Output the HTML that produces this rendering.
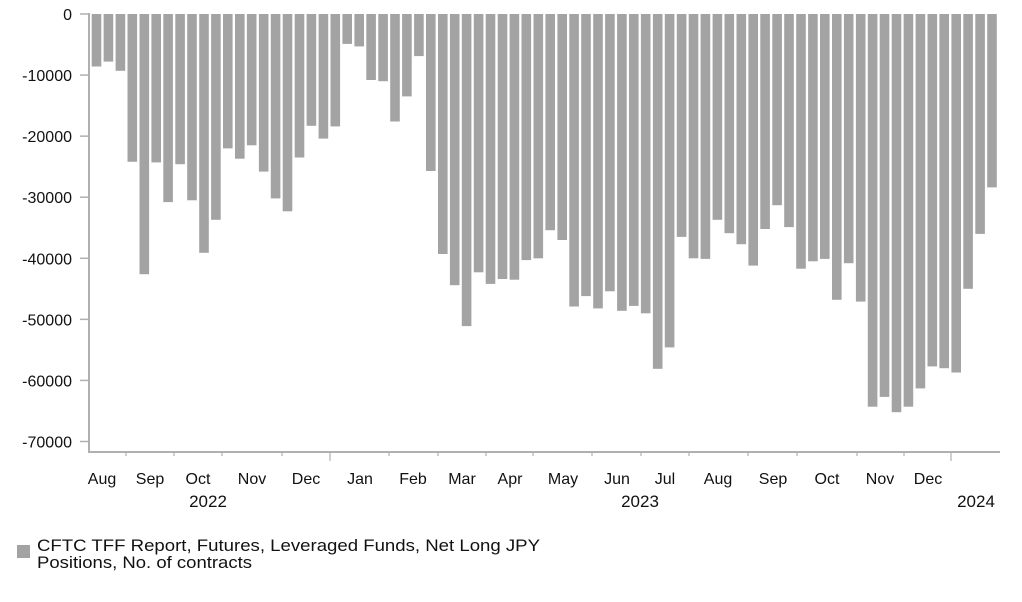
<!DOCTYPE html>
<html><head><meta charset="utf-8"><style>
body{margin:0;background:#fff;width:1022px;height:597px;overflow:hidden;font-family:"Liberation Sans",Arial,sans-serif;}
</style></head><body>
<svg width="1022" height="597" xmlns="http://www.w3.org/2000/svg" font-family="Liberation Sans, Arial, sans-serif" font-size="16" fill="#111">
<g id="bars" fill="#a3a3a3"></g>
<g stroke="#b0b0b0" stroke-width="2" fill="none">
<line x1="89" y1="13" x2="89" y2="453"/>
<line x1="88" y1="452" x2="1000" y2="452"/>
</g>
<g id="yt" stroke="#b0b0b0" stroke-width="1.5"></g>
<g id="yl" text-anchor="end"></g>
<g id="xt" stroke="#c0c0c0" stroke-width="1.5"></g>
<g text-anchor="middle">
<text x="102" y="484">Aug</text><text x="150" y="484">Sep</text><text x="198" y="484">Oct</text>
<text x="252" y="484">Nov</text><text x="306" y="484">Dec</text><text x="360" y="484">Jan</text>
<text x="413" y="484">Feb</text><text x="462" y="484">Mar</text><text x="510" y="484">Apr</text>
<text x="563" y="484">May</text><text x="617" y="484">Jun</text><text x="665" y="484">Jul</text>
<text x="718" y="484">Aug</text><text x="773" y="484">Sep</text><text x="827" y="484">Oct</text>
<text x="880" y="484">Nov</text><text x="928" y="484">Dec</text>
<text x="208" y="507" font-size="17">2022</text><text x="640" y="507" font-size="17">2023</text><text x="976" y="507" font-size="17">2024</text>
</g>
<rect x="17" y="545" width="13" height="13" fill="#a3a3a3"/>
<text x="37" y="551" font-size="17" textLength="503" lengthAdjust="spacingAndGlyphs">CFTC TFF Report, Futures, Leveraged Funds, Net Long JPY</text>
<text x="37" y="568" font-size="17" textLength="215" lengthAdjust="spacingAndGlyphs">Positions, No. of contracts</text>
</svg>
<script>
var v=[8.6,7.8,9.3,24.2,42.6,24.3,30.8,24.6,30.5,39.1,33.7,22.0,23.7,21.5,25.8,30.2,32.3,23.5,18.3,20.4,18.4,4.9,5.3,10.8,11.0,
17.6,13.5,6.9,25.7,39.3,44.4,51.1,42.3,44.2,43.4,43.5,40.3,40.0,35.4,37.0,47.9,46.2,48.2,45.4,48.6,47.8,49.0,58.1,54.6,36.5,40.0,
40.1,33.7,35.9,37.7,41.2,35.2,31.3,34.9,41.7,40.5,40.1,46.8,40.8,47.1,64.3,62.7,65.2,64.3,61.3,57.7,58.0,58.7,45.0,36.0,28.4];
var s="";
var y0=14,k=427.5/70;
for(var i=0;i<v.length;i++){var x=91.7+i*11.94;s+='<rect x="'+x.toFixed(1)+'" y="'+y0+'" width="9.6" height="'+(v[i]*k).toFixed(1)+'"/>';}
document.getElementById('bars').innerHTML=s;
var t="",l="";
for(var j=0;j<=7;j++){var y=y0+j*61.07;t+='<line x1="80" y1="'+y+'" x2="89" y2="'+y+'"/>';l+='<text x="72" y="'+(y+6)+'">'+(j?'-'+j*10000:'0')+'</text>';}
document.getElementById('yt').innerHTML=t;document.getElementById('yl').innerHTML=l;
var xs=[126,174,222,282,330,389,438,486,533,592,641,689,748,797,857,904,951],xt="";
xs.forEach(function(x){var L=(x==330||x==951)?8:3;xt+='<line x1="'+x+'" y1="453" x2="'+x+'" y2="'+(453+L)+'"/>';});
document.getElementById('xt').innerHTML=xt;
</script>
</body></html>
